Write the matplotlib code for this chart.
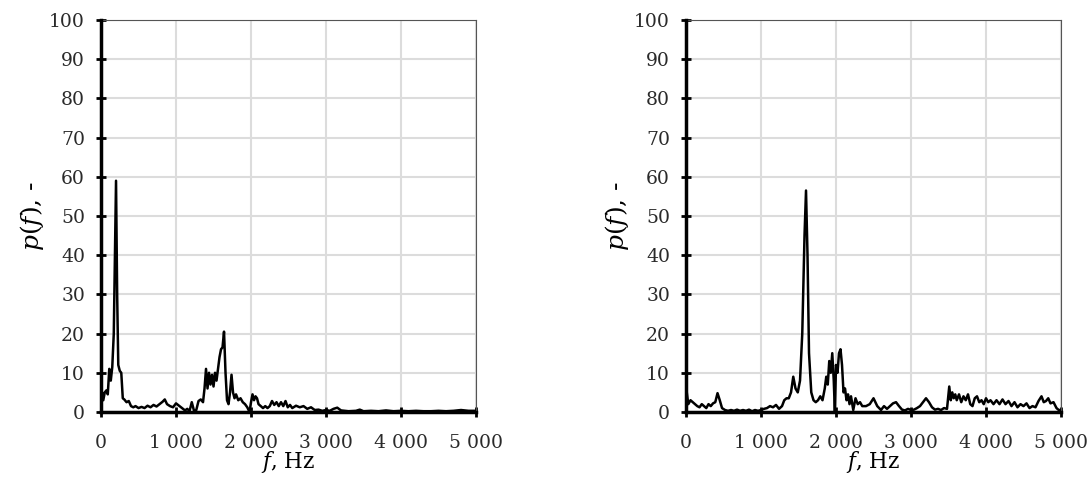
import matplotlib.pyplot as plt
from matplotlib.ticker import FuncFormatter

# Spectra (frequency in Hz, p(f) dimensionless)
f_left = [0, 15, 30, 50, 70, 90, 110, 130, 150, 170, 185, 200, 215, 230, 250, 270,
          290, 310, 340, 370, 400, 430, 460, 500, 540, 580, 620, 660, 700, 740, 780,
          820, 850, 880, 920, 960, 1000, 1040, 1080, 1120, 1150, 1180, 1210, 1240,
          1270, 1300, 1330, 1360, 1380, 1400, 1420, 1440, 1460, 1480, 1500, 1520,
          1540, 1560, 1580, 1600, 1620, 1640, 1660, 1680, 1700, 1720, 1740, 1760,
          1780, 1800, 1830, 1860, 1890, 1920, 1950, 1980, 2000, 2020, 2040, 2060,
          2080, 2100, 2130, 2160, 2190, 2220, 2250, 2280, 2310, 2340, 2370, 2400,
          2430, 2460, 2490, 2520, 2550, 2600, 2650, 2700, 2750, 2800, 2850, 2900,
          2950, 3000, 3050, 3100, 3150, 3200, 3250, 3300, 3400, 3450, 3500, 3600,
          3700, 3800, 3900, 4000, 4100, 4200, 4300, 4400, 4500, 4600, 4700, 4800,
          4900, 5000]
p_left = [3, 5, 3, 5, 5.5, 4.5, 11, 8, 11.5, 20, 40, 59, 30, 12, 10.5, 10,
          3.5, 3.2, 2.5, 2.8, 1.5, 1.2, 1.5, 1.0, 1.3, 1.0, 1.6, 1.2, 1.8, 1.4, 2.0,
          2.6, 3.2, 2.0, 1.5, 1.2, 2.2, 1.6, 1.0, 0.4, 0.8, 0.2, 2.5, 0.3,
          0.5, 2.8, 3.2, 2.5, 6, 11, 6, 10, 7, 9.5, 6.5, 10,
          8, 11, 14, 16, 16.5, 20.5, 10, 3, 2, 5, 9.5, 5,
          3.5, 4.5, 3, 3.5, 2.5, 2, 1.2, 0, 2.5, 4.5, 3, 4,
          3.5, 2, 1.5, 1.0, 1.5, 1.0, 1.5, 2.8, 1.8, 2.5, 1.5, 2.5,
          1.5, 2.8, 1.2, 1.8, 1.0, 1.6, 1.2, 1.5, 0.8, 1.2, 0.5, 0.6,
          0.3, 0.5, 0.3, 0.8, 1.1, 0.4, 0.3, 0.2, 0.3, 0.6, 0.2, 0.3,
          0.2, 0.4, 0.2, 0.3, 0.2, 0.3, 0.2, 0.2, 0.3, 0.2, 0.3, 0.5,
          0.3, 0.3]

f_right = [0, 10, 30, 60, 90, 120, 150, 180, 210, 240, 270, 300, 330, 360, 390, 420,
           450, 480, 520, 560, 600, 640, 680, 720, 760, 800, 840, 880, 920, 960, 1000,
           1040, 1080, 1120, 1160, 1200, 1240, 1280, 1310, 1340, 1370, 1400, 1430,
           1460, 1490, 1520, 1550, 1580, 1600, 1620, 1640, 1670, 1700, 1730, 1760,
           1790, 1820, 1850, 1870, 1890, 1910, 1930, 1950, 1970, 1985, 2000, 2020,
           2040, 2060, 2080, 2100, 2120, 2140, 2160, 2180, 2200, 2230, 2260, 2290,
           2320, 2350, 2400, 2450, 2500, 2550, 2600, 2640, 2680, 2720, 2760, 2800,
           2840, 2880, 2920, 2960, 3000, 3040, 3080, 3120, 3160, 3200, 3240, 3280,
           3320, 3360, 3400, 3440, 3480, 3510, 3530, 3550, 3570, 3590, 3610, 3640,
           3670, 3700, 3730, 3760, 3790, 3820, 3850, 3880, 3910, 3940, 3970, 4000,
           4030, 4060, 4100, 4140, 4180, 4220, 4260, 4300, 4340, 4380, 4420, 4460,
           4500, 4540, 4580, 4620, 4660, 4700, 4740, 4770, 4800, 4830, 4860, 4900,
           4940, 4970, 5000]
p_right = [9, 5, 2, 3, 2.5, 2, 1.5, 1.2, 2, 1.5, 1, 2, 1.5, 2.2, 2.5, 4.8,
           3, 1, 0.5, 0.3, 0.5, 0.3, 0.6, 0.3, 0.5, 0.3, 0.6, 0.2, 0.5, 0.3, 0.5,
           0.8, 1.0, 1.5, 1.2, 1.8, 0.8, 1.5, 3, 3.5, 3.5, 5, 9,
           6, 5, 8, 20, 45, 56.5, 40, 15, 5, 3, 2.5, 3,
           4, 3, 6, 9, 7, 13, 10, 15, 8, 0, 12, 10,
           15, 16, 12, 5, 6, 3, 4.5, 2, 4, 0.5, 3.5, 2,
           2.5, 1.5, 1.5, 2.0, 3.5, 1.5, 0.5, 1.5, 0.8, 1.5, 2.2, 2.5,
           1.5, 0.6, 0.4, 0.8, 0.5, 0.6, 1.0, 1.5, 2.5, 3.5, 2.5, 1.2,
           0.6, 0.8, 0.5, 1.0, 0.8, 6.5, 3, 5, 3.5, 4.5, 3, 4.5,
           2.5, 4, 3, 4.5, 2, 1.5, 3.5, 4, 2.5, 3.0, 2, 3.5,
           2.5, 3, 2, 3, 2, 3.2, 2, 2.8, 1.5, 2.5, 1.2, 2.0,
           1.5, 2.2, 1.0, 1.5, 1.2, 2.8, 4.0, 2.5, 2.8, 3.5, 2.2, 2.5,
           1.0, 0.5, 0.5]

x_ticks = [0, 1000, 2000, 3000, 4000, 5000]
y_ticks = [0, 10, 20, 30, 40, 50, 60, 70, 80, 90, 100]

plt.rcParams['font.family'] = 'DejaVu Serif'
plt.rcParams['mathtext.fontset'] = 'custom'
plt.rcParams['mathtext.rm'] = 'DejaVu Serif'
plt.rcParams['mathtext.it'] = 'DejaVu Serif:italic'

fig = plt.figure(figsize=(10.91, 4.79), dpi=100)
ax_l = fig.add_axes([0.0926, 0.1399, 0.3437, 0.8183])
ax_r = fig.add_axes([0.6288, 0.1399, 0.3437, 0.8183])


def fmt_thousands(x, pos):
    return f'{int(x):,}'.replace(',', ' ')


for ax, f, p in [(ax_l, f_left, p_left), (ax_r, f_right, p_right)]:
    ax.plot(f, p, color='black', lw=1.8, zorder=3)
    ax.set_xlim(0, 5000)
    ax.set_ylim(0, 100)
    ax.set_xticks(x_ticks)
    ax.set_yticks(y_ticks)
    ax.xaxis.set_major_formatter(FuncFormatter(fmt_thousands))
    ax.grid(True, color='#dcdcdc', lw=1.5, zorder=0)
    ax.set_axisbelow(True)
    for side in ['top', 'right']:
        ax.spines[side].set_color('#555555')
        ax.spines[side].set_linewidth(0.8)
    for side in ['left', 'bottom']:
        ax.spines[side].set_color('black')
        ax.spines[side].set_linewidth(2.5)
        ax.spines[side].set_zorder(4)
    ax.tick_params(direction='inout', length=7, width=2, labelsize=13.5,
                   colors='black', labelcolor='#2a2a2a')
    ax.tick_params(axis='y', pad=8)
    ax.tick_params(axis='x', pad=12)
    ax.set_xlabel('$f$, Hz', fontsize=15.5, labelpad=-2)
    ax.set_ylabel('$p(f)$, -', fontsize=18, labelpad=2)

fig.savefig('out.png', dpi=100)
